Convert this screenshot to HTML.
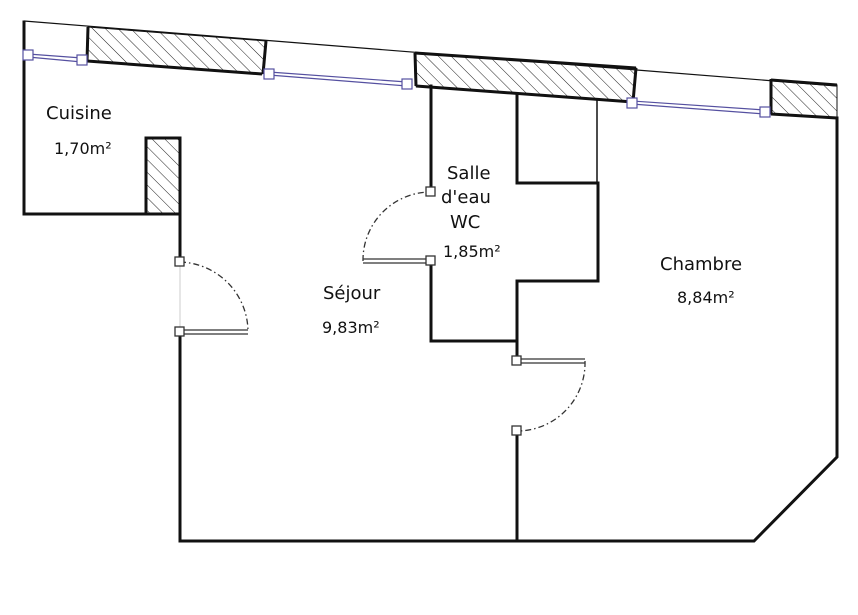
<!DOCTYPE html>
<html><head><meta charset="utf-8"><style>
html,body{margin:0;padding:0;background:#fff;width:858px;height:615px;overflow:hidden}
text{font-family:"DejaVu Sans","Liberation Sans",sans-serif;fill:#111}
</style></head><body>
<svg width="858" height="615" viewBox="0 0 858 615" xmlns="http://www.w3.org/2000/svg">
<defs>
<pattern id="h" patternUnits="userSpaceOnUse" width="9" height="9" patternTransform="rotate(-45)">
<line x1="0" y1="0" x2="0" y2="9" stroke="#222" stroke-width="1"/>
</pattern>
</defs>
<line x1="24" y1="21" x2="837" y2="86" stroke="#111" stroke-width="1.2"/>
<polygon points="88,27 266,41 262,74 87,61" fill="url(#h)" stroke="#111" stroke-width="1"/>
<line x1="87" y1="61" x2="262" y2="74" stroke="#111" stroke-width="3"/>
<line x1="88" y1="27" x2="87" y2="61" stroke="#111" stroke-width="3"/>
<line x1="266" y1="41" x2="263" y2="74" stroke="#111" stroke-width="3"/>
<polygon points="415,53 636,68 633,102 416,86" fill="url(#h)" stroke="#111" stroke-width="1"/>
<line x1="415" y1="53" x2="636" y2="68" stroke="#111" stroke-width="3"/>
<line x1="416" y1="86" x2="633" y2="102" stroke="#111" stroke-width="3"/>
<line x1="415" y1="53" x2="416" y2="86" stroke="#111" stroke-width="3"/>
<line x1="636" y1="68" x2="633" y2="102" stroke="#111" stroke-width="3"/>
<polygon points="771,80 837,85 837,118 771,114" fill="url(#h)" stroke="#111" stroke-width="1"/>
<line x1="771" y1="80" x2="837" y2="85" stroke="#111" stroke-width="3"/>
<line x1="771" y1="114" x2="837" y2="118" stroke="#111" stroke-width="3"/>
<line x1="771" y1="79" x2="771" y2="114" stroke="#111" stroke-width="3"/>
<rect x="146" y="138" width="34" height="76" fill="url(#h)" stroke="#111" stroke-width="3"/>
<g stroke="#111" stroke-width="3" fill="none" stroke-linecap="square">
<polyline points="24,22 24,214 180,214"/>
<line x1="180" y1="214" x2="180" y2="262"/>
<polyline points="180,332 180,541 754,541 837,457 837,118"/>
<line x1="431" y1="86" x2="431" y2="192"/>
<polyline points="431,261 431,341 517,341 517,281 598,281 598,183 517,183 517,95"/>
<line x1="517" y1="341" x2="517" y2="361"/>
<line x1="517" y1="431" x2="517" y2="541"/>
</g>
<line x1="597" y1="100" x2="597" y2="183" stroke="#111" stroke-width="1.5"/>
<line x1="180" y1="262" x2="180" y2="332" stroke="#ccc" stroke-width="1"/>
<g stroke="#5550a0" stroke-width="1.2">
<line x1="28" y1="54" x2="82" y2="58"/><line x1="28" y1="57" x2="82" y2="62"/>
<line x1="269" y1="72" x2="407" y2="82"/><line x1="269" y1="75" x2="407" y2="86"/>
<line x1="632" y1="101" x2="765" y2="110"/><line x1="632" y1="104" x2="765" y2="114"/>
</g>
<g fill="#fff" stroke="#5550a0" stroke-width="1.2">
<rect x="23" y="50" width="10" height="10"/><rect x="77" y="55" width="10" height="10"/>
<rect x="264" y="69" width="10" height="10"/><rect x="402" y="79" width="10" height="10"/>
<rect x="627" y="98" width="10" height="10"/><rect x="760" y="107" width="10" height="10"/>
</g>
<g stroke="#333" stroke-width="1.3" fill="none" stroke-dasharray="6,3,1.5,3">
<path d="M180,262 A70,70 0 0 1 248,332"/>
<path d="M363,261 A68,68 0 0 1 431,192"/>
<path d="M585,361 A68,68 0 0 1 517,431"/>
</g>
<g stroke="#333" stroke-width="1.2">
<line x1="180" y1="330" x2="248" y2="330"/><line x1="180" y1="334" x2="248" y2="334"/>
<line x1="363" y1="259" x2="431" y2="259"/><line x1="363" y1="263" x2="431" y2="263"/>
<line x1="517" y1="359" x2="585" y2="359"/><line x1="517" y1="363" x2="585" y2="363"/>
</g>
<g fill="#fff" stroke="#333" stroke-width="1.3">
<rect x="175" y="257" width="9" height="9"/><rect x="175" y="327" width="9" height="9"/>
<rect x="426" y="187" width="9" height="9"/><rect x="426" y="256" width="9" height="9"/>
<rect x="512" y="356" width="9" height="9"/><rect x="512" y="426" width="9" height="9"/>
</g>
<text x="46" y="119" font-size="18">Cuisine</text>
<text x="54" y="154" font-size="16">1,70m²</text>
<text x="447" y="179" font-size="18">Salle</text>
<text x="441" y="203" font-size="18">d'eau</text>
<text x="450" y="228" font-size="18">WC</text>
<text x="443" y="257" font-size="16">1,85m²</text>
<text x="323" y="299" font-size="18">Séjour</text>
<text x="322" y="333" font-size="16">9,83m²</text>
<text x="660" y="270" font-size="18">Chambre</text>
<text x="677" y="303" font-size="16">8,84m²</text>
</svg>
</body></html>
